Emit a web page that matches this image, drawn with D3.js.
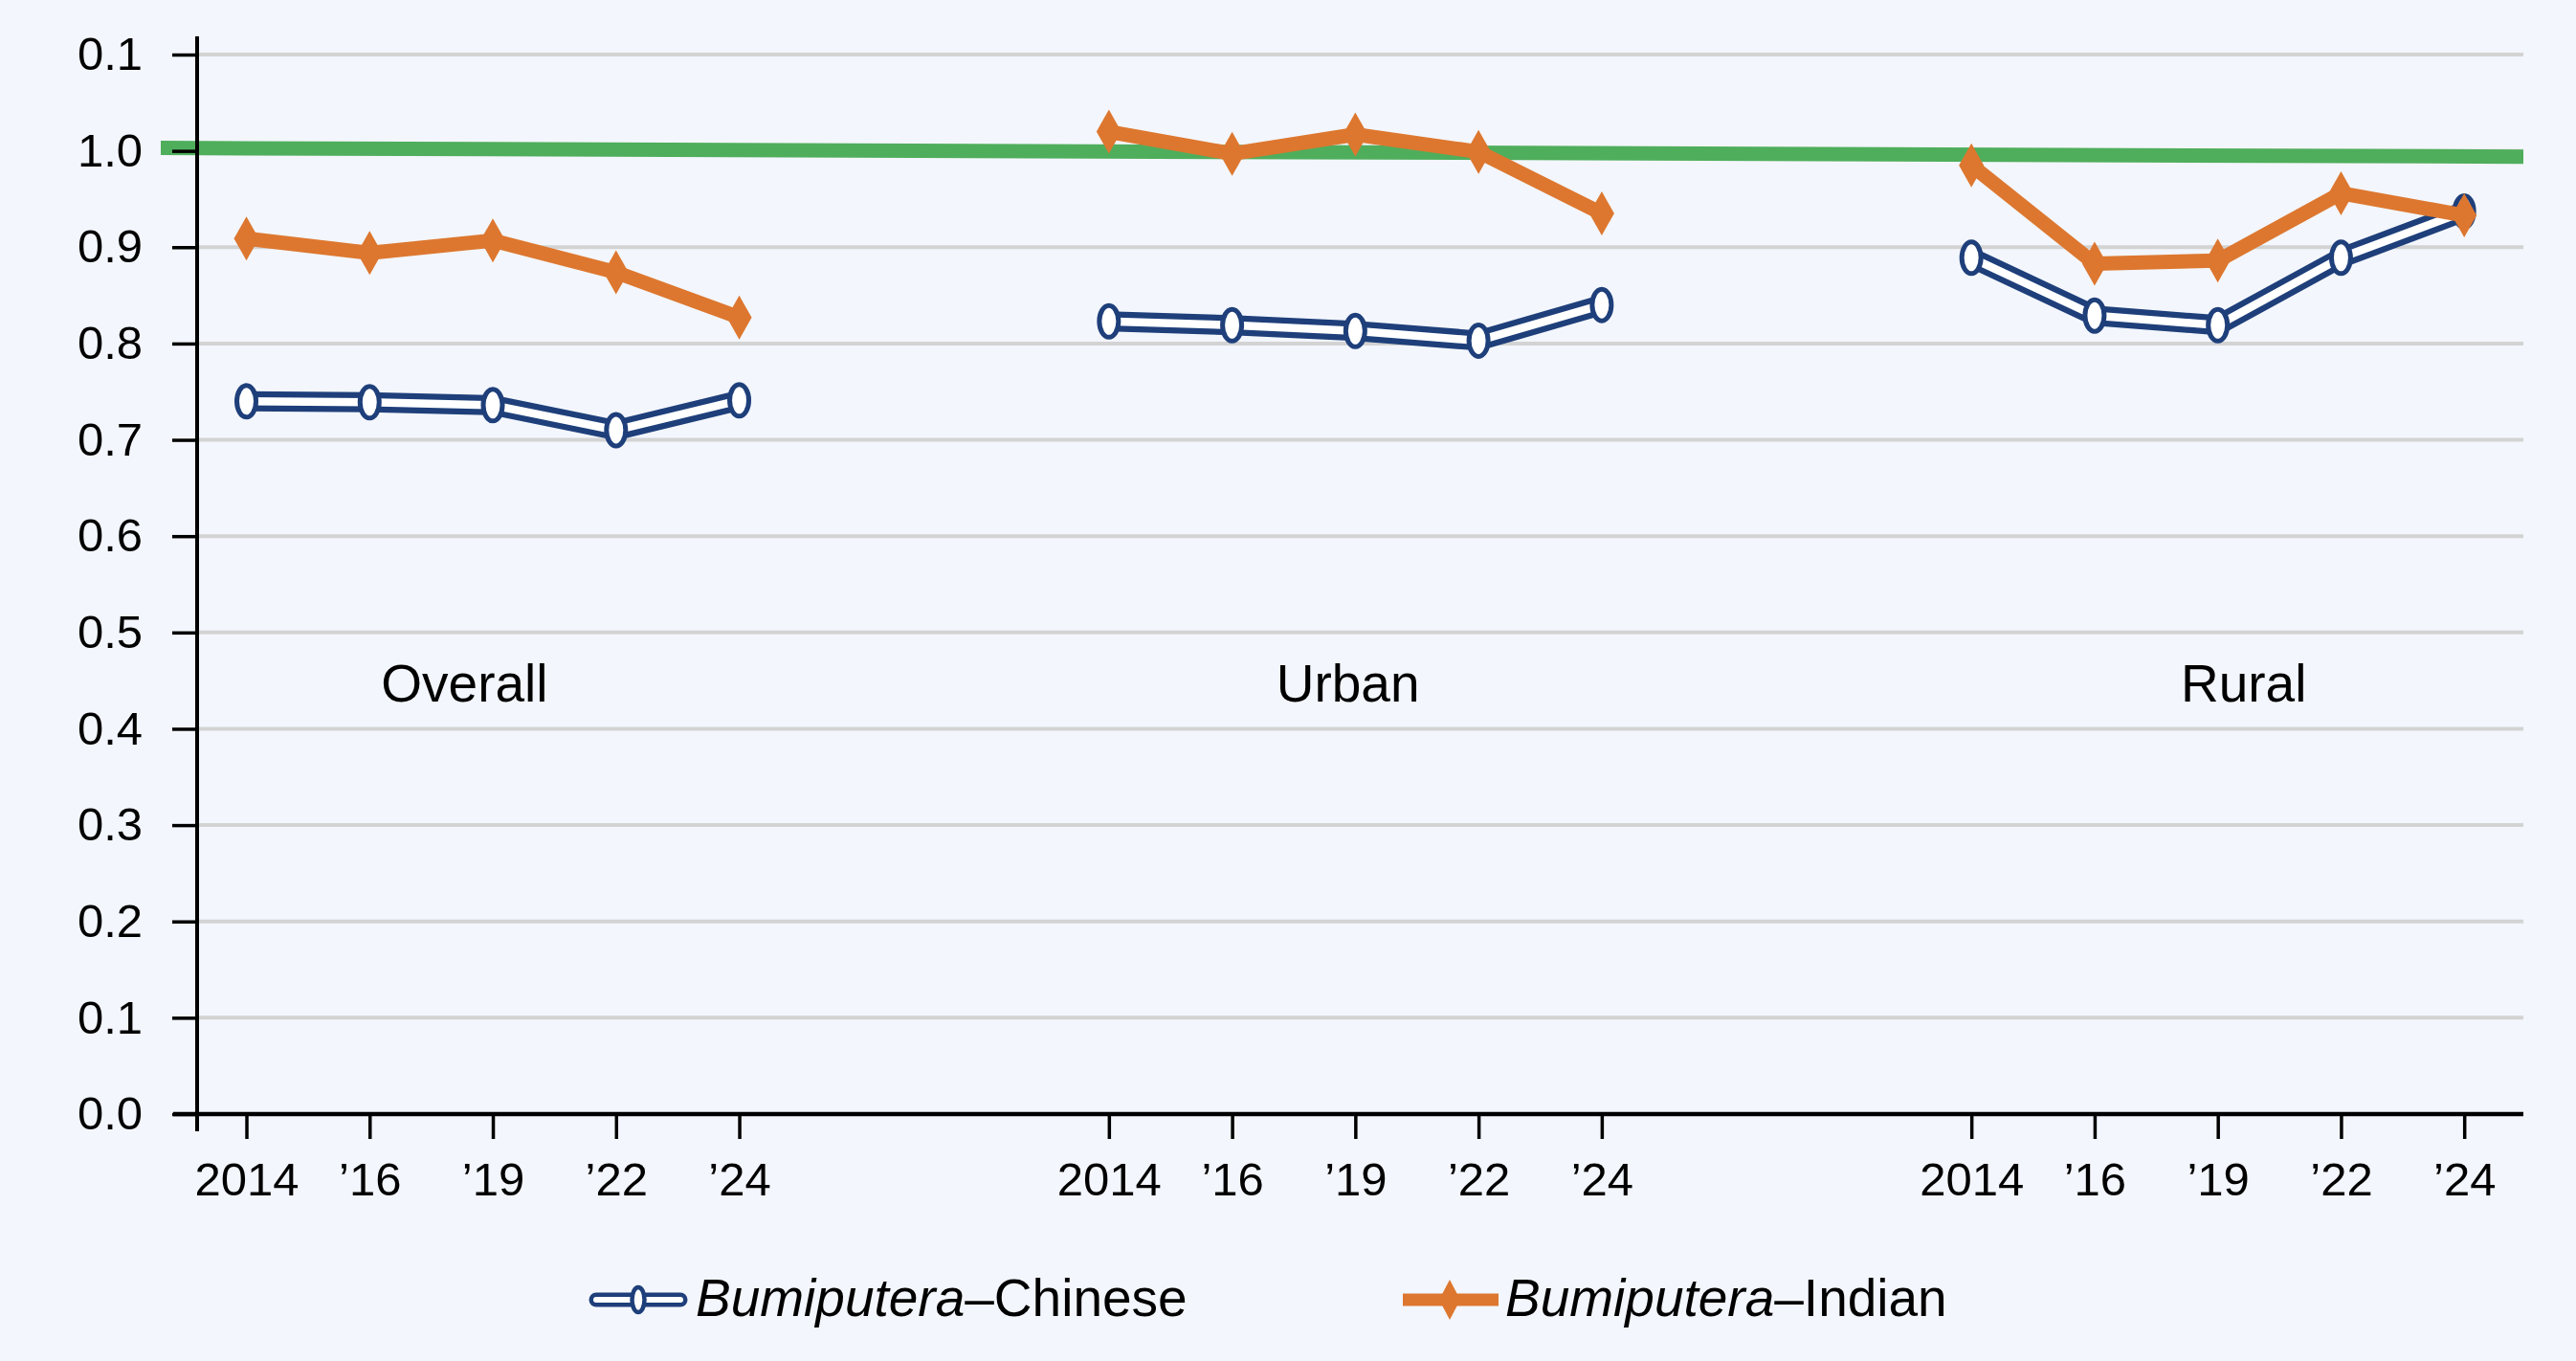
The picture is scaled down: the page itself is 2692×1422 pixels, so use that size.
<!DOCTYPE html>
<html><head><meta charset="utf-8">
<script src="https://cdn.jsdelivr.net/npm/d3@7"></script>
<style>
html,body{margin:0;padding:0;background:#f3f6fc;}
svg{display:block;}
text{font-family:"Liberation Sans",Arial,Helvetica,sans-serif;fill:#000;}
</style></head>
<body>
<svg id="chart" width="2692" height="1422"></svg>
<script>
// ---- data ----
const groups = ["Overall", "Urban", "Rural"];
const groupStart = [0, 7, 14];
const yearLabels = ["2014", "\u201916", "\u201919", "\u201922", "\u201924"];
const chineseOverall = [0.740, 0.739, 0.736, 0.710, 0.741];
const chineseUrban   = [0.823, 0.819, 0.813, 0.803, 0.840];
const chineseRural   = [0.889, 0.829, 0.819, 0.889, 0.937];
const indianOverall  = [0.909, 0.894, 0.907, 0.874, 0.827];
const indianUrban    = [1.020, 0.997, 1.017, 0.999, 0.935];
const indianRural    = [0.985, 0.883, 0.886, 0.956, 0.933];
const parityLine = [1.003, 0.994];
const yTickValues = [0, 0.1, 0.2, 0.3, 0.4, 0.5, 0.6, 0.7, 0.8, 0.9, 1.0, 1.1];
const yTickLabels = ["0.0", "0.1", "0.2", "0.3", "0.4", "0.5", "0.6", "0.7", "0.8", "0.9", "1.0", "0.1"];
const seriesNames = ["Bumiputera", "\u2013Chinese", "\u2013Indian"];

const chineseSeries = [chineseOverall, chineseUrban, chineseRural];
const indianSeries = [indianOverall, indianUrban, indianRural];

// ---- layout ----
const svg = d3.select("#chart");
const plotLeft = 206, plotRight = 2637, plotTop = 57, plotBottom = 1164;
const x = d3.scaleLinear().domain([-0.4, 18.48]).range([plotLeft, plotRight]);
const y = d3.scaleLinear().domain([0, 1.1]).range([plotBottom, plotTop]);
const groupLabelSlot = [1.77, 8.94, 16.21];

const NAVY = "#1e3f7a", ORANGE = "#dd772f", GREEN = "#4fae5c", GRID = "#d3d3d3";

// gridlines
svg.append("g").selectAll("line").data(yTickValues.filter(v => v > 0)).join("line")
  .attr("x1", plotLeft).attr("x2", plotRight)
  .attr("y1", d => y(d)).attr("y2", d => y(d))
  .attr("stroke", GRID).attr("stroke-width", 4);

// parity line
svg.append("line")
  .attr("x1", 168).attr("x2", plotRight)
  .attr("y1", y(parityLine[0])).attr("y2", y(parityLine[1]))
  .attr("stroke", GREEN).attr("stroke-width", 15);

// y axis
const yAxis = d3.axisLeft(y).tickValues(yTickValues)
  .tickFormat((d, i) => yTickLabels[i]).tickSize(26).tickPadding(31);
const gy = svg.append("g").attr("transform", `translate(${plotLeft},0)`).call(yAxis);
gy.select(".domain").remove();
gy.selectAll(".tick line").attr("stroke", "#000").attr("stroke-width", 3.5);
gy.selectAll(".tick text").attr("font-size", 49).attr("font-family", "Liberation Sans, Arial, sans-serif").attr("fill", "#000");
svg.append("line").attr("x1", plotLeft).attr("x2", plotLeft).attr("y1", 38).attr("y2", 1182)
  .attr("stroke", "#000").attr("stroke-width", 4);

// x axis
const slots = [], slotLabels = [];
groups.forEach((g, gi) => yearLabels.forEach((l, i) => { slots.push(groupStart[gi] + i); slotLabels.push(l); }));
const xAxis = d3.axisBottom(x).tickValues(slots).tickFormat((d, i) => slotLabels[i]).tickSize(26).tickPadding(24);
const gx = svg.append("g").attr("transform", `translate(0,${plotBottom})`).call(xAxis);
gx.select(".domain").remove();
gx.selectAll(".tick line").attr("stroke", "#000").attr("stroke-width", 3.5);
gx.selectAll(".tick text").attr("font-size", 49).attr("font-family", "Liberation Sans, Arial, sans-serif").attr("fill", "#000");
svg.append("line").attr("x1", 181).attr("x2", plotRight).attr("y1", plotBottom).attr("y2", plotBottom)
  .attr("stroke", "#000").attr("stroke-width", 4.5);

// group labels
svg.append("g").selectAll("text").data(groups).join("text")
  .attr("x", (d, i) => x(groupLabelSlot[i]))
  .attr("y", 733)
  .attr("text-anchor", "middle").attr("font-size", 55).text(d => d);

// series
const line = d3.line().x(d => x(d.s)).y(d => y(d.v));
chineseSeries.forEach((vals, gi) => {
  const pts = vals.map((v, i) => ({ s: groupStart[gi] + i, v }));
  const g = svg.append("g");
  g.append("path").attr("d", line(pts)).attr("fill", "none").attr("stroke", NAVY).attr("stroke-width", 21).attr("stroke-linejoin", "round");
  g.append("path").attr("d", line(pts)).attr("fill", "none").attr("stroke", "#fff").attr("stroke-width", 8.5).attr("stroke-linejoin", "round");
  g.selectAll("ellipse").data(pts).join("ellipse")
    .attr("cx", d => x(d.s)).attr("cy", d => y(d.v)).attr("rx", 10).attr("ry", 16.5)
    .attr("fill", "#fff").attr("stroke", NAVY).attr("stroke-width", 5);
});
const diamond = (cx, cy, w, h) => `M${cx},${cy - h}L${cx + w},${cy}L${cx},${cy + h}L${cx - w},${cy}Z`;
indianSeries.forEach((vals, gi) => {
  const pts = vals.map((v, i) => ({ s: groupStart[gi] + i, v }));
  const g = svg.append("g");
  g.append("path").attr("d", line(pts)).attr("fill", "none").attr("stroke", ORANGE).attr("stroke-width", 15).attr("stroke-linejoin", "round");
  g.selectAll("path.m").data(pts).join("path").attr("class", "m")
    .attr("d", d => diamond(x(d.s), y(d.v), 13, 23)).attr("fill", ORANGE);
});

// legend
const ly = 1358;
const lg = svg.append("g");
lg.append("line").attr("x1", 623).attr("x2", 711).attr("y1", ly).attr("y2", ly).attr("stroke", NAVY).attr("stroke-width", 15).attr("stroke-linecap", "round");
lg.append("line").attr("x1", 623).attr("x2", 711).attr("y1", ly).attr("y2", ly).attr("stroke", "#fff").attr("stroke-width", 6).attr("stroke-linecap", "round");
lg.append("ellipse").attr("cx", 667).attr("cy", ly).attr("rx", 6.5).attr("ry", 13).attr("fill", "#fff").attr("stroke", NAVY).attr("stroke-width", 4.5);
const t1 = lg.append("text").attr("x", 727).attr("y", 1375).attr("font-size", 55);
t1.append("tspan").attr("font-style", "italic").text(seriesNames[0]);
t1.append("tspan").text(seriesNames[1]);

lg.append("line").attr("x1", 1466).attr("x2", 1566).attr("y1", ly).attr("y2", ly).attr("stroke", ORANGE).attr("stroke-width", 13);
lg.append("path").attr("d", diamond(1515, ly, 11, 21)).attr("fill", ORANGE);
const t2 = lg.append("text").attr("x", 1573).attr("y", 1375).attr("font-size", 55);
t2.append("tspan").attr("font-style", "italic").text(seriesNames[0]);
t2.append("tspan").text(seriesNames[2]);
</script>
</body></html>
